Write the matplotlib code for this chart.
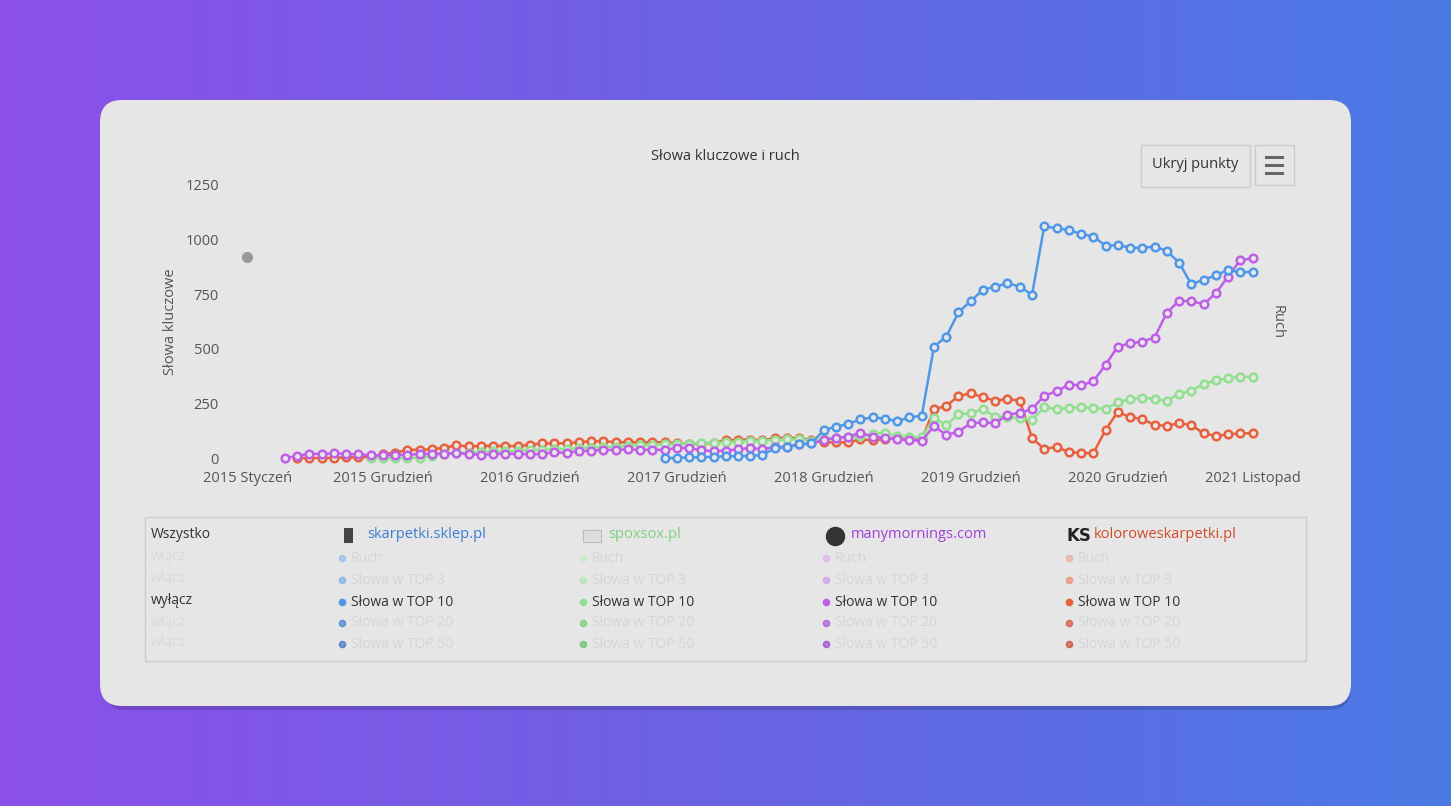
import matplotlib.pyplot as plt
import numpy as np
from matplotlib.patches import FancyBboxPatch, Rectangle
from matplotlib.colors import LinearSegmentedColormap

W, H = 1451, 806

# month index 0 = 2015 Styczeń
tick_pos = [0, 11, 23, 35, 47, 59, 71, 82]
tick_labels = ['2015 Styczeń', '2015 Grudzień', '2016 Grudzień', '2017 Grudzień',
               '2018 Grudzień', '2019 Grudzień', '2020 Grudzień', '2021 Listopad']

orange_start = 4
orange = [0, 0, 0, 1, 3, 3, 5, 17, 24, 37, 38, 40, 47, 58, 53, 55, 56, 55, 55, 60,
          67, 67, 67, 73, 76, 78, 72, 72, 72, 72, 72, 67, 64, 66, 70, 81, 84, 84,
          82, 90, 93, 90, 82, 72, 72, 72, 85, 82, 85, 95, 93, 85, 223, 238, 284, 296,
          278, 263, 270, 263, 93, 40, 52, 26, 24, 21, 128, 212, 186, 179, 151, 148,
          159, 151, 113, 101, 108, 113, 113]

blue_start = 34
blue = [0, 0, 3, 3, 6, 8, 9, 9, 14, 44, 51, 62, 67, 128, 143, 156, 177, 186, 180,
        168, 186, 194, 510, 556, 667, 719, 770, 785, 800, 785, 747, 1062, 1051, 1044,
        1026, 1014, 972, 975, 963, 963, 968, 948, 895, 796, 816, 836, 861, 850, 853]

purple_start = 3
purple = [0, 9, 20, 18, 21, 18, 18, 12, 13, 14, 15, 18, 20, 20, 23, 18, 15, 18, 20,
          18, 18, 18, 26, 24, 31, 34, 37, 37, 40, 37, 38, 37, 46, 46, 35, 31, 34, 40,
          46, 40, 51, 51, 62, 67, 82, 93, 97, 116, 97, 93, 85, 82, 78, 147, 105, 121,
          159, 163, 159, 197, 208, 223, 286, 305, 336, 333, 351, 426, 510, 525, 533,
          551, 665, 719, 719, 704, 754, 830, 906, 914]

green_start = 10
green = [0, 0, 0, 0, 2, 10, 20, 22, 25, 28, 30, 30, 33, 35, 38, 40, 42, 45, 48, 50,
         52, 55, 58, 60, 62, 64, 66, 68, 70, 72, 75, 78,
         80, 82, 85, 87, 80, 85, 90, 95, 100, 110, 116, 100, 95, 95,
         182, 151, 200, 205, 223, 190, 186, 182, 174, 232, 225, 229, 232, 229, 225,
         255, 270, 276, 270, 263, 293, 308, 339, 355, 365, 372, 372]

series = [
    ('#E8603C', orange_start, orange),
    ('#90E090', green_start, green),
    ('#BF5FE8', purple_start, purple),
    ('#4F98E8', blue_start, blue),
]

fig = plt.figure(figsize=(W / 100, H / 100), dpi=100)

# gradient background
bg = fig.add_axes([0, 0, 1, 1])
grad = np.linspace(0, 1, 256)[None, :]
cmap = LinearSegmentedColormap.from_list('bg', ['#8C50E8', '#6A62E4', '#4A7AE4'])
bg.imshow(grad, aspect='auto', cmap=cmap, extent=[0, W, H, 0])
bg.set_xlim(0, W)
bg.set_ylim(H, 0)
bg.axis('off')

# card with shadow
bg.add_patch(FancyBboxPatch((104, 106), 1247, 604, boxstyle='round,pad=0,rounding_size=22',
                            fc='#000000', alpha=0.15, ec='none'))
bg.add_patch(FancyBboxPatch((100, 100), 1251, 606, boxstyle='round,pad=0,rounding_size=22',
                            fc='#E6E6E6', ec='none'))

bg.text(725, 157, 'Słowa kluczowe i ruch', ha='center', va='center', fontsize=10.5,
        color='#333333', family='Open Sans')
# button
bg.add_patch(Rectangle((1141, 145), 109, 42, fc='#E6E6E6', ec='#CCCCCC', lw=1))
bg.text(1195, 165, 'Ukryj punkty', ha='center', va='center', fontsize=10.5,
        color='#333333', family='Open Sans')
bg.add_patch(Rectangle((1255, 145), 39, 40, fc='#E6E6E6', ec='#CCCCCC', lw=1))
for yy in (157, 165, 173):
    bg.add_patch(Rectangle((1265, yy - 1.5), 19, 3, fc='#666666', ec='none'))

bg.text(171, 322, 'Słowa kluczowe', rotation=90, ha='center', va='center', fontsize=10.5,
        color='#555555', family='Open Sans')
bg.text(1277, 322, 'Ruch', rotation=270, ha='center', va='center', fontsize=10.5,
        color='#555555', family='Open Sans')
bg.plot([247], [257], 'o', color='#999999', ms=7)

# main axes: month 0 -> px 248, 12.25 px per month
px0, ppm = 248, 12.25
left_px, right_px = 230, 1280
top_px, bot_px = 185, 458
ax = fig.add_axes([left_px / W, 1 - bot_px / H, (right_px - left_px) / W, (bot_px - top_px) / H])
ax.set_facecolor('none')
ax.set_xlim((left_px - px0) / ppm, (right_px - px0) / ppm)
ax.set_ylim(0, 1250)
for sp in ax.spines.values():
    sp.set_visible(False)
ax.set_yticks([0, 250, 500, 750, 1000, 1250])
ax.set_xticks(tick_pos)
ax.set_xticklabels(tick_labels)
ax.tick_params(length=0, labelsize=10.5, colors='#555555', pad=9)
ax.tick_params(axis='y', pad=8)
for lab in ax.get_xticklabels() + ax.get_yticklabels():
    lab.set_family('Open Sans')

for color, start, vals in series:
    x = np.arange(start, start + len(vals))
    ax.plot(x, vals, '-o', color=color, lw=1.8, ms=5.5, mfc='#E6E6E6', mec=color, mew=1.8,
            clip_on=False)

# legend table
bg.add_patch(Rectangle((145, 517), 1161, 144, fc='none', ec='#CCCCCC', lw=1))
rows_y = [535, 557, 579, 601, 622, 643]
first_col = ['Wszystko', 'włącz', 'włącz', 'wyłącz', 'włącz', 'włącz']
for t, yy in zip(first_col, rows_y):
    dark = t in ('Wszystko', 'wyłącz')
    bg.text(151, yy, t, va='center', fontsize=10, family='Open Sans',
            color='#333333' if dark else '#DADADA')

entries = ['Ruch', 'Słowa w TOP 3', 'Słowa w TOP 10', 'Słowa w TOP 20', 'Słowa w TOP 50']
cols = [
    (342, 'skarpetki.sklep.pl', '#3C7CD0', ['#8CB8EE', '#6FA6EA', '#4F98E8', '#2F6FD0', '#2A60C0']),
    (583, 'spoxsox.pl', '#7ED07E', ['#C0EEC0', '#A8E8A8', '#90E090', '#60D060', '#50C050']),
    (826, 'manymornings.com', '#A040D8', ['#E0A8F0', '#D090F0', '#BF5FE8', '#A040E0', '#9030D0']),
    (1069, 'koloroweskarpetki.pl', '#D04A2A', ['#F0A090', '#EC8060', '#E8603C', '#D04020', '#C03818']),
]
for cx, name, ncol, dots in cols:
    bg.text(cx + 25, 535, name, va='center', fontsize=10.5, color=ncol, family='Open Sans')
    for i, (t, yy) in enumerate(zip(entries, rows_y[1:])):
        active = i == 2
        bg.plot([cx], [yy + 1], 'o', ms=4.5, color=dots[i], alpha=1 if active else 0.6)
        bg.text(cx + 9, yy + 1, t, va='center', fontsize=10, family='Open Sans',
                color='#333333' if active else '#D6D6D6')

# small icons
bg.add_patch(Rectangle((344, 528), 9, 15, fc='#444444', ec='none'))
bg.add_patch(Rectangle((583, 530), 18, 12, fc='#DDDDDD', ec='#BBBBBB', lw=0.8))
bg.plot([835], [536], 'o', ms=13, color='#333333')
bg.text(1067, 536, 'KS', va='center', fontsize=12, fontweight='bold', color='#222222',
        family='DejaVu Sans')

fig.savefig('out.png', dpi=100)
